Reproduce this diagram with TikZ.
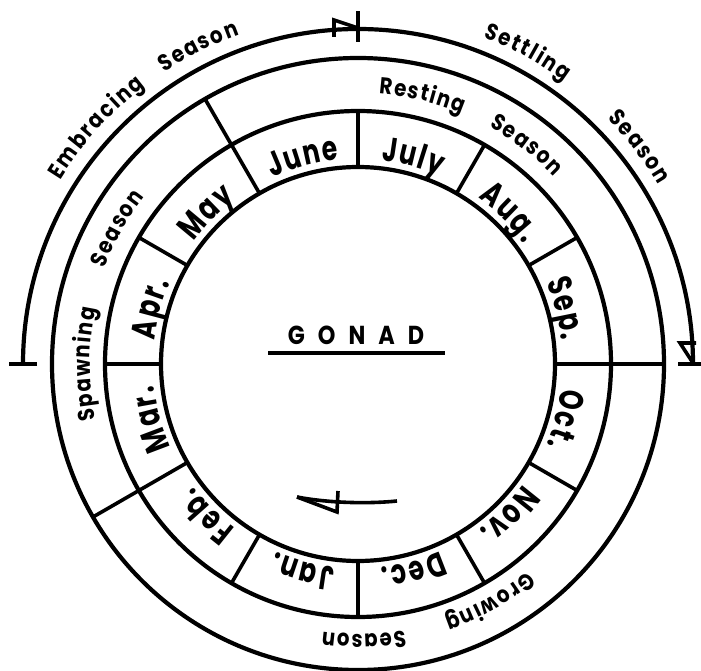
\documentclass[tikz,border=0pt]{standalone}
\usepackage{fontspec}
\newfontfamily\monthfont[FakeStretch=0.74]{Poppins}
\newfontfamily\seasonfont[FakeStretch=0.86]{Poppins}
\newcommand\mf{\monthfont\bfseries\fontsize{34}{34}\selectfont}
\newcommand\ssz{\seasonfont\bfseries\fontsize{23}{23}\selectfont}
\newcommand\gsz{\seasonfont\bfseries\fontsize{26}{26}\selectfont}
\newcount\arcn
\newcount\letn
% measure a word (outside the picture)
\newcommand\prepword[3]{%
  \gdef\arctot{0}\gdef\arcwl{}\global\arcn=0
  \foreach \ch in {#3}{%
    \setbox0=\hbox{#2\ch}%
    \pgfmathsetmacro\arcw{\the\wd0}%
    \pgfmathsetmacro\arctmp{\arctot+\arcw}%
    \xdef\arctot{\arctmp}%
    \global\advance\arcn by 1
    \ifx\arcwl\empty \xdef\arcwl{\ch/\arcw}\else\xdef\arcwl{\arcwl,\ch/\arcw}\fi
  }%
  \expandafter\xdef\csname aw@#1\endcsname{\arcwl}%
  \expandafter\xdef\csname at@#1\endcsname{\arctot}%
  \expandafter\xdef\csname an@#1\endcsname{\the\arcn}%
}
% place a measured word along a circle, reading clockwise, tops outward
\newcommand\arcword[5]{% #1 key, #2 radius, #3 centre angle, #4 font, #5 gap
  \pgfmathsetmacro\arctmp{-(\csname at@#1\endcsname+(\csname an@#1\endcsname-1)*(#5))/2}%
  \xdef\arcpos{\arctmp}%
  \expandafter\let\expandafter\arccur\csname aw@#1\endcsname
  \foreach \ch/\w in \arccur {%
    \pgfmathsetmacro\arcang{(#3)-(\arcpos+\w/2)/(#2)*180/pi}%
    \global\advance\letn by 1
    \node[letter, rotate=\arcang-90] (L\the\letn) at (\arcang:#2) {#4\ch};
    \pgfmathsetmacro\arctmp{\arcpos+\w+(#5)}%
    \xdef\arcpos{\arctmp}%
  }%
}
\begin{document}
\prepword{jun}{\mf}{J,u,n,e}%
\prepword{jul}{\mf}{J,u,l,y}%
\prepword{aug}{\mf}{A,u,g,.}%
\prepword{sep}{\mf}{S,e,p,.}%
\prepword{oct}{\mf}{O,c,t,.}%
\prepword{nov}{\mf}{N,o,v,.}%
\prepword{dec}{\mf}{D,e,c,.}%
\prepword{jan}{\mf}{J,a,n,.}%
\prepword{feb}{\mf}{F,e,b,.}%
\prepword{mar}{\mf}{M,a,r,.}%
\prepword{apr}{\mf}{A,p,r,.}%
\prepword{may}{\mf}{M,a,y}%
\prepword{season}{\ssz}{S,e,a,s,o,n}%
\prepword{resting}{\ssz}{R,e,s,t,i,n,g}%
\prepword{spawning}{\ssz}{S,p,a,w,n,i,n,g}%
\prepword{growing}{\ssz}{G,r,o,w,i,n,g}%
\prepword{embracing}{\ssz}{E,m,b,r,a,c,i,n,g}%
\prepword{settling}{\ssz}{S,e,t,t,l,i,n,g}%
\begin{tikzpicture}[x=1pt,y=1pt,
  ring/.style={line width=4.2pt},
  sepline/.style={line width=3.6pt},
  marker/.style={line width=3.6pt},
  letter/.style={anchor=base, inner sep=0pt, outer sep=0pt},
]
\useasboundingbox (0,0) rectangle (701,670);
\fill[white] (0,0) rectangle (701,670);
\begin{scope}[shift={(358,306)}]
  % rings
  \draw[ring] (0,0) circle[radius=197pt];
  \draw[ring] (0,0) circle[radius=253pt];
  \draw[ring] (0,0) circle[radius=306pt];
  % month separators
  \foreach \a in {90,60,30,-30,-60,-90,-120,180,150}
    \draw[sepline] (\a:197) -- (\a:253);
  % season separators
  \foreach \a in {0,120,210}
    \draw[sepline] (\a:197) -- (\a:306);
  % outer arc
  \draw[ring] (180:335) arc[start angle=180, end angle=0, radius=335pt];
  % markers
  \draw[marker] (180:321) -- (180:349);
  \draw[marker] (90:322) -- (90:353);
  \draw[marker] (-24,327) -- (-24,344) -- (0,336);
  \draw[marker] (0:320) -- (0:344);
  \draw[marker] (338,21) -- (322,21) -- (335,1);
  % months
  \arcword{jun}{205}{105}{\mf}{2}
  \arcword{jul}{205}{75}{\mf}{2}
  \arcword{aug}{205}{45}{\mf}{2}
  \arcword{sep}{205}{15}{\mf}{2}
  \arcword{oct}{205}{-15}{\mf}{2}
  \arcword{nov}{205}{-45}{\mf}{2}
  \arcword{dec}{205}{-75}{\mf}{2}
  \arcword{jan}{205}{-105}{\mf}{2}
  \arcword{feb}{205}{-135}{\mf}{2}
  \arcword{mar}{205}{-165}{\mf}{2}
  \arcword{apr}{205}{165}{\mf}{2}
  \arcword{may}{205}{135}{\mf}{2}
  % season ring labels
  \arcword{resting}{271}{76.5}{\ssz}{1.5}
  \arcword{season}{271}{52.4}{\ssz}{1.5}
  \arcword{spawning}{268}{180}{\ssz}{1.5}
  \arcword{season}{271}{150.6}{\ssz}{1.5}
  \arcword{growing}{268}{-61}{\ssz}{1.5}
  \arcword{season}{270}{-88.8}{\ssz}{1.5}
  % outer labels
  \arcword{embracing}{350}{137.9}{\ssz}{2}
  \arcword{season}{350}{116.7}{\ssz}{2}
  \arcword{settling}{350}{61.4}{\ssz}{2}
  \arcword{season}{350}{37.7}{\ssz}{2}
  % centre
  \node[anchor=base, inner sep=0pt] (gonad) at (-2,19)
    {\gsz G\hspace{13pt}O\hspace{13pt}N\hspace{13pt}A\hspace{13pt}D};
  \coordinate (ulL) at (-90,11);
  \coordinate (ulR) at (87,11);
  \draw[marker] (ulL) -- (ulR);
  % direction arrow
  \coordinate (arR) at (39,-137);
  \coordinate (arTip) at (-61,-133);
  \draw[marker] (arR) .. controls (10,-140) and (-30,-139) .. (arTip);
  \draw[marker] (arTip) -- (-21,-148) -- (-20,-127);
\end{scope}
\end{tikzpicture}
\end{document}
